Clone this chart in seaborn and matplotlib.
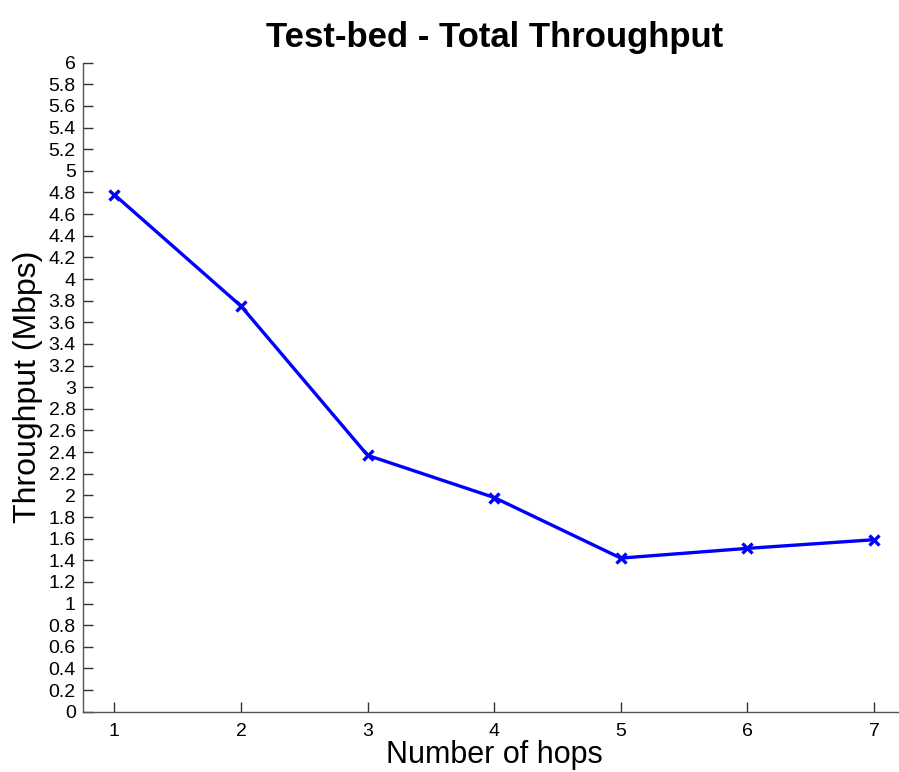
import matplotlib
matplotlib.use("Agg")
import matplotlib.pyplot as plt
import numpy as np
import pandas as pd
import seaborn as sns

# Measured total throughput versus hop count
hops = [1, 2, 3, 4, 5, 6, 7]
throughput = [4.78, 3.75, 2.37, 1.98, 1.42, 1.51, 1.59]
y_ticks = [round(v, 1) for v in np.arange(0, 6.01, 0.2)]

df = pd.DataFrame({"hops": hops, "throughput": throughput})

sns.set_style("ticks")
plt.rcParams["font.family"] = ["Liberation Sans", "DejaVu Sans"]
plt.rcParams["text.color"] = "black"
plt.rcParams["axes.labelcolor"] = "black"

fig = plt.figure(figsize=(8.99, 7.72), dpi=100)
ax = fig.add_axes([0.092, 0.0781, 0.9155, 0.8407])

sns.lineplot(data=df, x="hops", y="throughput", ax=ax, color="#0000ff",
             linewidth=2.4, marker="x", markersize=7, markeredgewidth=2.4,
             markeredgecolor="#0000ff")

ax.set_xlim(0.75, 7.25)
ax.set_ylim(0, 6)
ax.set_xticks(hops)
ax.set_yticks(y_ticks)
ax.set_yticklabels([f"{v:g}" for v in y_ticks])

for side in ("top", "right"):
    ax.spines[side].set_visible(False)
for side in ("left", "bottom"):
    ax.spines[side].set_color("#555555")
    ax.spines[side].set_linewidth(1.0)

ax.tick_params(direction="in", length=7, width=1.0, color="#333333",
               labelsize=14, labelcolor="black")
ax.tick_params(axis="x", pad=8)
ax.tick_params(axis="y", pad=5)

ax.set_title("Test-bed - Total Throughput", fontsize=25, fontweight="bold",
             pad=11, color="black")
ax.set_xlabel("Number of hops", fontsize=22, labelpad=0)
ax.set_ylabel("Throughput (Mbps)", fontsize=23, labelpad=4)

fig.savefig("out.png", dpi=100)
